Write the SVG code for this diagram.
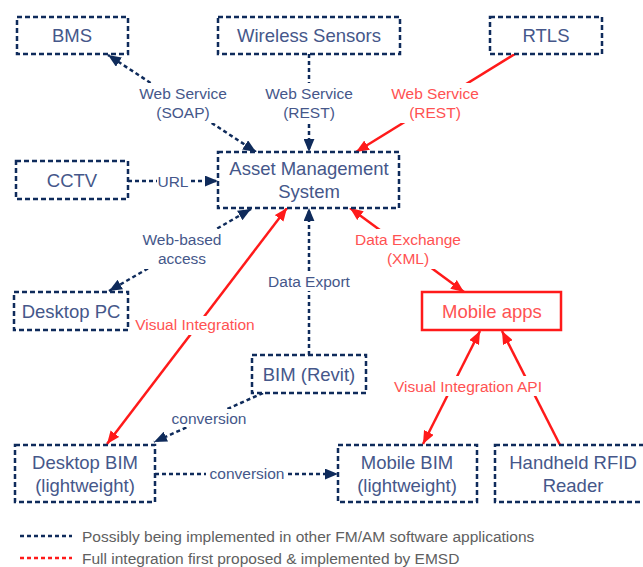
<svg xmlns="http://www.w3.org/2000/svg" width="643" height="567" viewBox="0 0 643 567">
<style>
.box{fill:#fff;stroke:#0f2b5b;stroke-width:2.5;stroke-dasharray:5 3}
.rbox{fill:#fff;stroke:#ff1a1a;stroke-width:2.5}
.nt{font-family:"Liberation Sans",Arial,sans-serif;font-size:18.5px;fill:#45578a;text-anchor:middle}
.rnt{font-family:"Liberation Sans",Arial,sans-serif;font-size:18.5px;fill:#ff5252;text-anchor:middle}
.lb{font-family:"Liberation Sans",Arial,sans-serif;font-size:15.5px;fill:#45578a;text-anchor:middle}
.rlb{font-family:"Liberation Sans",Arial,sans-serif;font-size:15.5px;fill:#ff5252;text-anchor:middle}
.lg{font-family:"Liberation Sans",Arial,sans-serif;font-size:15.5px;fill:#606060}
.d{fill:none;stroke:#0f2b5b;stroke-width:2.5;stroke-dasharray:4 3}
.r{fill:none;stroke:#ff1a1a;stroke-width:2.5}
.bg{fill:#fff}
</style>
<defs>
<marker id="an" viewBox="0 0 12 10" refX="12" refY="5" markerWidth="13" markerHeight="11" markerUnits="userSpaceOnUse" orient="auto-start-reverse"><path d="M0,0 L12,5 L0,10 Z" fill="#0f2b5b"/></marker>
<marker id="ar" viewBox="0 0 12 10" refX="12" refY="5" markerWidth="13" markerHeight="11" markerUnits="userSpaceOnUse" orient="auto-start-reverse"><path d="M0,0 L12,5 L0,10 Z" fill="#ff1a1a"/></marker>
</defs>
<g id="connectors">
<path class="d" d="M256,152 L108,55" marker-start="url(#an)" marker-end="url(#an)"/>
<path class="d" d="M309,54 L309,152" marker-end="url(#an)"/>
<path class="r" d="M515,54 L356,152" marker-end="url(#ar)"/>
<path class="d" d="M128,181 L218,181" marker-end="url(#an)"/>
<path class="d" d="M251,209 L109,291" marker-start="url(#an)" marker-end="url(#an)"/>
<path class="r" d="M287,208 L107,444" marker-start="url(#ar)" marker-end="url(#ar)"/>
<path class="d" d="M309,355 L309,208" marker-end="url(#an)"/>
<path class="r" d="M350,208 L464,292" marker-start="url(#ar)" marker-end="url(#ar)"/>
<path class="d" d="M263,393 L154,442" marker-end="url(#an)"/>
<path class="d" d="M155,474 L338,474" marker-end="url(#an)"/>
<path class="r" d="M480,331 L423,444" marker-start="url(#ar)" marker-end="url(#ar)"/>
<path class="r" d="M560,445 L502,331" marker-end="url(#ar)"/>
<g id="labels">
<rect class="bg" x="135" y="83" width="96" height="40"/>
<text class="lb" x="183" y="99">Web Service</text><text class="lb" x="183" y="118">(SOAP)</text>
<rect class="bg" x="261" y="83" width="96" height="40"/>
<text class="lb" x="309" y="99">Web Service</text><text class="lb" x="309" y="118">(REST)</text>
<rect class="bg" x="387" y="83" width="96" height="40"/>
<text class="rlb" x="435" y="99">Web Service</text><text class="rlb" x="435" y="118">(REST)</text>
<rect class="bg" x="157" y="173" width="33" height="17"/>
<text class="lb" x="173" y="187">URL</text>
<rect class="bg" x="139" y="229" width="86" height="40"/>
<text class="lb" x="182" y="245">Web-based</text><text class="lb" x="182" y="264">access</text>
<rect class="bg" x="264" y="272" width="90" height="19"/>
<text class="lb" x="309" y="287">Data Export</text>
<rect class="bg" x="134" y="316" width="122" height="19"/>
<text class="rlb" x="195" y="330">Visual Integration</text>
<rect class="bg" x="350" y="229" width="116" height="40"/>
<text class="rlb" x="408" y="245">Data Exchange</text><text class="rlb" x="408" y="264">(XML)</text>
<rect class="bg" x="388" y="376" width="160" height="20"/>
<text class="rlb" x="468" y="392">Visual Integration API</text>
<rect class="bg" x="168" y="409" width="82" height="18"/>
<text class="lb" x="209" y="424">conversion</text>
<rect class="bg" x="206" y="465" width="82" height="18"/>
<text class="lb" x="247" y="479">conversion</text>
</g>
</g>
<g id="n-bms"><rect class="box" x="17" y="17" width="111" height="37"/><text class="nt" x="72" y="42">BMS</text></g>
<g id="n-wireless"><rect class="box" x="218" y="17" width="182" height="37"/><text class="nt" x="309" y="42">Wireless Sensors</text></g>
<g id="n-rtls"><rect class="box" x="490" y="17" width="112" height="37"/><text class="nt" x="546" y="42">RTLS</text></g>
<g id="n-cctv"><rect class="box" x="16" y="161" width="112" height="38"/><text class="nt" x="72" y="187">CCTV</text></g>
<g id="n-ams"><rect class="box" x="218" y="152" width="181" height="56"/><text class="nt" x="309" y="175">Asset Management</text><text class="nt" x="309" y="198">System</text></g>
<g id="n-desktoppc"><rect class="box" x="14" y="292" width="114" height="38"/><text class="nt" x="71" y="318">Desktop PC</text></g>
<g id="n-mobileapps"><rect class="rbox" x="422" y="292" width="139" height="38"/><text class="rnt" x="492" y="318">Mobile apps</text></g>
<g id="n-revit"><rect class="box" x="252" y="355" width="114" height="38"/><text class="nt" x="309" y="381">BIM (Revit)</text></g>
<g id="n-desktopbim"><rect class="box" x="15" y="445" width="140" height="57"/><text class="nt" x="85" y="469">Desktop BIM</text><text class="nt" x="85" y="492">(lightweight)</text></g>
<g id="n-mobilebim"><rect class="box" x="338" y="445" width="139" height="57"/><text class="nt" x="407" y="469">Mobile BIM</text><text class="nt" x="407" y="492">(lightweight)</text></g>
<g id="n-rfid"><rect class="box" x="495" y="445" width="160" height="57"/><text class="nt" x="573" y="469">Handheld RFID</text><text class="nt" x="573" y="492">Reader</text></g>
<g id="legend">
<line class="d" x1="20" y1="536" x2="72" y2="536"/>
<text class="lg" x="82" y="542">Possibly being implemented in other FM/AM software applications</text>
<line x1="20" y1="558" x2="72" y2="558" stroke="#ff1a1a" stroke-width="2.5" stroke-dasharray="4 3"/>
<text class="lg" x="82" y="564">Full integration first proposed &amp; implemented by EMSD</text>
</g>
</svg>
